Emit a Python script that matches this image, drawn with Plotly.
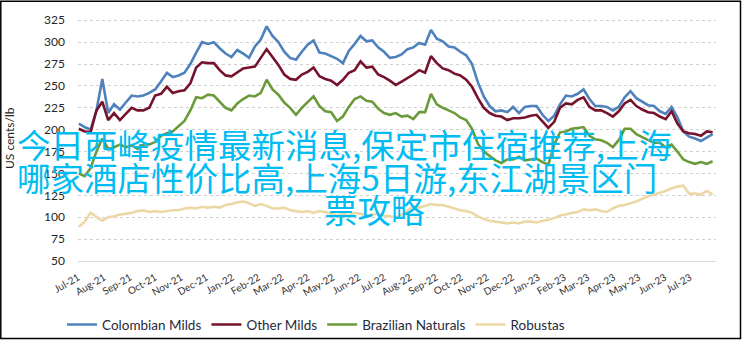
import pandas as pd
import plotly.graph_objects as go

# Weekly observation dates (Jul 2021 - Jul 2023)
dates = pd.date_range("2021-07-02", periods=109, freq="7D")

colombian_milds = [
    207, 203, 200, 222, 258, 219, 229, 223, 231, 239,
    238, 239, 242, 246, 255, 265, 260, 262, 265, 275,
    288, 300, 298, 300, 293, 287, 283, 291, 287, 282,
    295, 303, 318, 307, 300, 289, 282, 280, 289, 297,
    302, 288, 287, 284, 281, 276, 290, 298, 307, 301,
    302, 294, 289, 282, 283, 286, 292, 294, 299, 297,
    314, 304, 301, 295, 294, 289, 285, 275, 254, 238,
    227, 221, 222, 220, 226, 219, 226, 227, 227, 217,
    210, 216, 229, 239, 238, 241, 246, 235, 227, 227,
    226, 222, 226, 237, 244, 236, 232, 228, 227, 221,
    218, 226, 214, 198, 192, 190, 187, 191, 195,
]
other_milds = [
    201, 198, 197, 222, 232, 211, 219, 211, 218, 225,
    222, 222, 225, 239, 241, 249, 242, 244, 245, 253,
    271, 277, 276, 276, 268, 262, 261, 266, 270, 271,
    272, 282, 292, 283, 274, 263, 258, 257, 263, 266,
    271, 261, 258, 256, 251, 257, 265, 268, 278, 271,
    272, 263, 260, 256, 251, 255, 259, 263, 268, 265,
    284, 276, 270, 268, 264, 262, 257, 249, 236, 225,
    219, 216, 215, 211, 213, 213, 214, 216, 217, 210,
    202, 209, 225, 230, 229, 234, 237, 226, 222, 222,
    219, 215, 221, 230, 234, 227, 223, 220, 219, 215,
    212, 221, 207, 198, 196, 195, 193, 198, 197,
]
brazilian_naturals = [
    150, 147, 156, 175, 190, 178, 180, 183, 180, 182,
    178, 183, 183, 186, 193, 196, 198, 204, 210, 222,
    237, 236, 240, 239, 232, 225, 222, 230, 235, 239,
    238, 242, 257, 246, 240, 231, 225, 217, 225, 232,
    238, 227, 221, 220, 210, 215, 226, 235, 238, 233,
    232, 224, 219, 217, 219, 215, 216, 212, 220, 220,
    241, 229, 225, 222, 219, 214, 211, 201, 184, 175,
    170, 165, 162, 166, 166, 169, 165, 166, 167, 163,
    160, 183, 197, 198, 201, 202, 203, 193, 189, 188,
    185, 180, 188, 201, 201, 195, 191, 188, 185, 185,
    180, 183, 175, 166, 163, 161, 163, 161, 164,
]
robustas = [
    89, 95, 105, 100, 96, 100, 101, 103, 104, 105,
    107, 108, 106, 107, 106, 107, 108, 108, 110, 111,
    110, 112, 111, 112, 111, 114, 115, 117, 118, 116,
    113, 115, 113, 110, 110, 111, 108, 107, 106, 107,
    105, 107, 106, 104, 102, 104, 102, 105, 104, 102,
    103, 104, 102, 101, 100, 103, 108, 112, 111, 113,
    115, 114, 114, 112, 110, 108, 107, 105, 101, 98,
    96, 95, 94, 93, 94, 93, 95, 95, 94, 96,
    97, 99, 102, 103, 105, 106, 109, 108, 109, 107,
    106, 110, 113, 114, 116, 118, 121, 124, 126, 128,
    130, 133, 135, 136, 127, 127, 126, 130, 126,
]

series_names = ["Colombian Milds", "Other Milds", "Brazilian Naturals", "Robustas"]
series_values = [colombian_milds, other_milds, brazilian_naturals, robustas]
series_colors = ["#4f81bd", "#76122c", "#6b9a3a", "#ecd8a4"]

tick_dates = [
    "2021-07-01", "2021-08-01", "2021-09-01", "2021-10-01", "2021-11-01",
    "2021-12-01", "2022-01-01", "2022-02-01", "2022-03-01", "2022-04-01",
    "2022-05-01", "2022-06-01", "2022-07-01", "2022-08-01", "2022-09-01",
    "2022-10-01", "2022-11-01", "2022-12-01", "2023-01-01", "2023-02-01",
    "2023-03-01", "2023-04-01", "2023-05-01", "2023-06-01", "2023-07-01",
]
tick_labels = [
    "Jul-21", "Aug-21", "Sep-21", "Oct-21", "Nov-21", "Dec-21", "Jan-22",
    "Feb-22", "Mar-22", "Apr-22", "May-22", "Jun-22", "Jul-22", "Aug-22",
    "Sep-22", "Oct-22", "Nov-22", "Dec-22", "Jan-23", "Feb-23", "Mar-23",
    "Apr-23", "May-23", "Jun-23", "Jul-23",
]

overlay_lines = [
    "今日西峰疫情最新消息,保定市住宿推荐,上海",
    "哪家酒店性价比高,上海5日游,东江湖景区门",
    "票攻略",
]

W, H = 743, 352
ML, MR, MT, MB = 78, 27, 15, 82
PW = W - ML - MR
PH = H - MT - MB

fig = go.Figure()
for name, vals, col in zip(series_names, series_values, series_colors):
    fig.add_trace(go.Scatter(
        x=dates, y=vals, name=name, mode="lines",
        line=dict(color=col, width=2.6),
    ))

font_family = "Lato, 'Open Sans', sans-serif"


def px_x(px):
    return (px - ML) / PW


def px_y(py):
    return (H - MB - py) / PH


annotations = [
    dict(text="US cents/lb", textangle=-90, xref="paper", yref="paper",
         x=px_x(9), y=0.5, xanchor="center", yanchor="middle", showarrow=False,
         font=dict(family=font_family, size=12, color="#262626")),
]
line_pos = [(15, 148), (15, 182), (322, 216)]
for txt, (lx, cy) in zip(overlay_lines, line_pos):
    annotations.append(dict(
        text=txt, xref="paper", yref="paper", x=px_x(lx), y=px_y(cy),
        xanchor="left", yanchor="middle", showarrow=False,
        font=dict(family="'Noto Sans CJK SC'", size=33.5, color="#00bcf2"),
    ))

fig.update_layout(
    width=W, height=H,
    margin=dict(l=ML, r=MR, t=MT, b=MB, pad=0),
    paper_bgcolor="white", plot_bgcolor="white",
    font=dict(family=font_family, color="#262626"),
    showlegend=True,
    legend=dict(orientation="h", x=px_x(62), y=px_y(320), xanchor="left", yanchor="top",
                font=dict(size=13.5, color="#1f2a3a"), bgcolor="rgba(0,0,0,0)",
                tracegroupgap=0, itemwidth=30),
    annotations=annotations,
    shapes=[dict(type="rect", xref="paper", yref="paper",
                 x0=px_x(0.8), x1=px_x(740.5), y0=px_y(350.3), y1=px_y(0.8),
                 line=dict(color="black", width=1.5), layer="above")],
    xaxis=dict(
        type="date", range=["2021-07-01", "2023-08-01"],
        tickvals=tick_dates, ticktext=tick_labels, tickangle=-30,
        tickfont=dict(size=10, color="#333333"),
        showgrid=False, showline=True, linecolor="#d9d9d9", linewidth=1,
        ticks="", ticklabelstandoff=6, zeroline=False,
    ),
    yaxis=dict(
        range=[50, 331], tick0=50, dtick=25,
        tickfont=dict(size=12, color="#262626"),
        showgrid=True, gridcolor="#d0d0d0", griddash="dot", gridwidth=1.3,
        zeroline=False, ticks="", ticklabelstandoff=12, showline=False,
    ),
)

fig.write_html("out.html", config={"displayModeBar": False})
